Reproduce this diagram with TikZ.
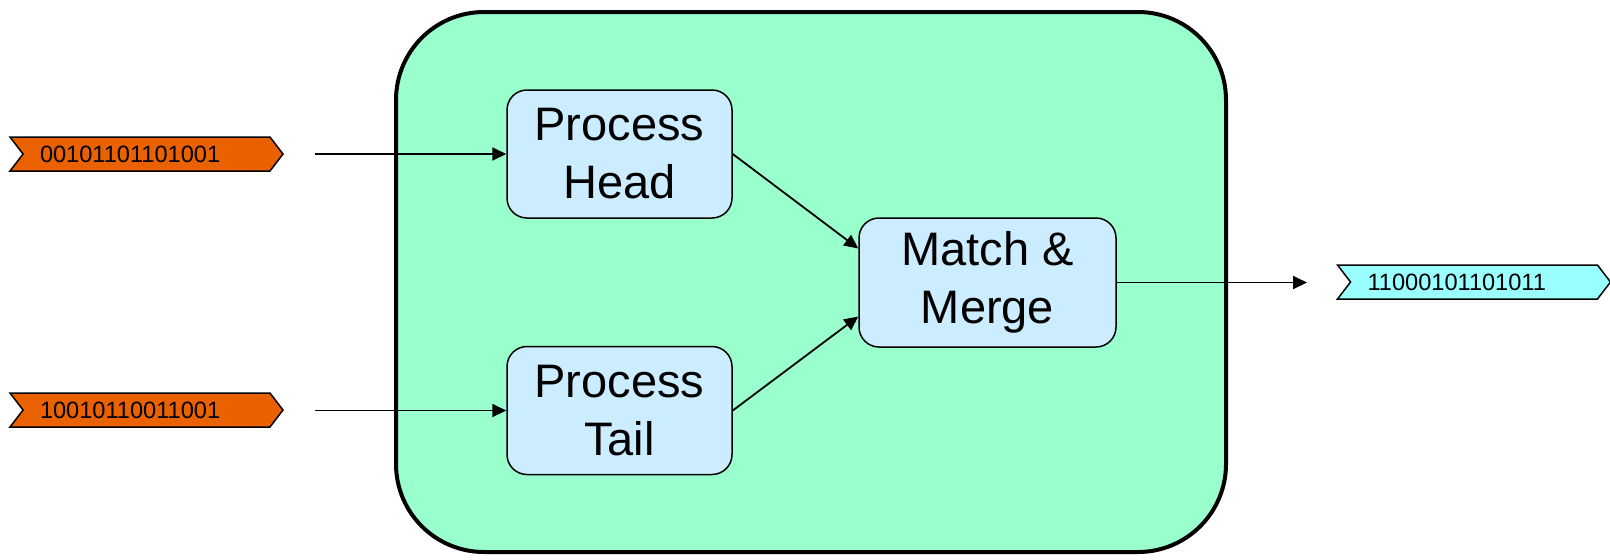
\documentclass[tikz,border=0pt]{standalone}
\usepackage{fontspec}
\setmainfont{Liberation Sans}
\usetikzlibrary{arrows.meta,positioning,shapes.symbols}

\definecolor{mint}{HTML}{99FFCC}
\definecolor{paleblue}{HTML}{CCECFF}
\definecolor{bitorange}{HTML}{EA6100}
\definecolor{bitcyan}{HTML}{99FFFF}

\begin{document}
\begin{tikzpicture}[
  x=0.5pt, y=-0.5pt,
  unit/.style={
    draw, line width=2pt, rounded corners=44pt, fill=mint,
    minimum width=415pt, minimum height=270pt
  },
  proc/.style={
    draw, line width=0.75pt, rounded corners=10pt, fill=paleblue,
    minimum width=112.5pt, minimum height=64pt, inner sep=0pt,
    align=center, font=\fontsize{23.5}{29}\selectfont
  },
  bits/.style={
    signal, signal from=west, signal to=east, signal pointer angle=105,
    draw, line width=0.75pt, minimum width=136.5pt, minimum height=17pt,
    inner sep=0pt, text width=106.5pt, align=left,
    font=\fontsize{11.8}{14}\selectfont
  },
  lnk/.style={-{Triangle[length=7pt,width=6.5pt]}, line width=0.9pt},
]
\useasboundingbox (0,0) rectangle (1610,559);

\node[unit] (core) at (811,282) {};

\node[proc] (head) at (619.5,154) {Process\\Head};
\node[proc] (tail) at (619.5,410.5) {Process\\Tail};
\node[proc, minimum width=128.5pt, minimum height=64.5pt] (merge)
  at (987.5,282.5) {Match \&\\Merge};

%% input and output streams
\node[bits, fill=bitorange] (inA) at (146.5,154) {00101101101001};
\node[bits, fill=bitorange] (inB) at (146.5,410) {10010110011001};
\node[bits, fill=bitcyan] (out) at (1474,282) {11000101101011};

\coordinate (srcA) at (315,154);
\coordinate (srcB) at (315,410.5);
\coordinate (sink) at (1307,282.5);

\draw[lnk] (srcA) -- (head.west);
\draw[lnk] (srcB) -- (tail.west);

%% head and tail meet in the merge
\draw[lnk] (head.east) -- ([yshift=17pt]merge.west);
\draw[lnk] (tail.east) -- ([yshift=-17pt]merge.west);

\draw[lnk] (merge.east) -- (sink);
\end{tikzpicture}
\end{document}
